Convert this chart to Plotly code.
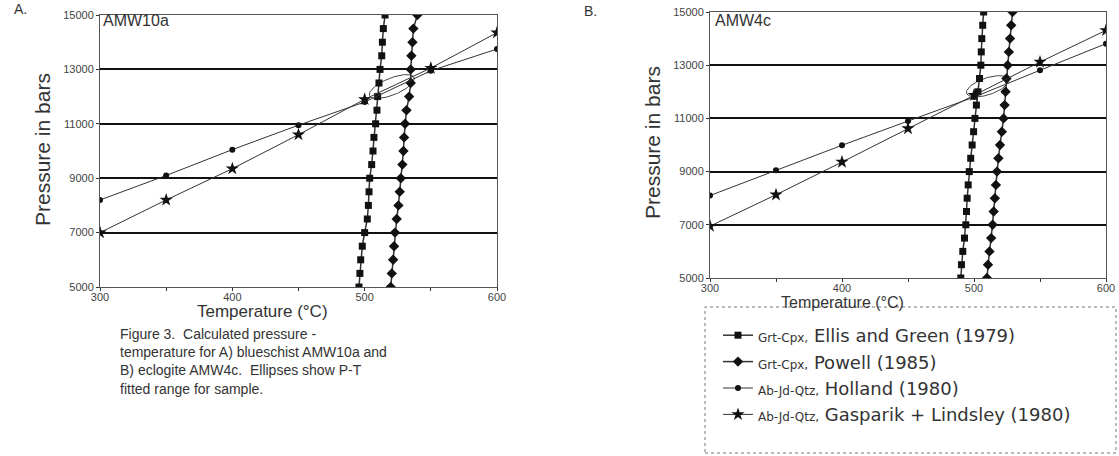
import numpy as np
import plotly.graph_objects as go

# ---------------- data ----------------
temps = [300, 350, 400, 450, 500, 550, 600]
pressures = [5000, 5500, 6000, 6500, 7000, 7500, 8000, 8500, 9000, 9500, 10000,
             10500, 11000, 11500, 12000, 12500, 13000, 13500, 14000, 14500, 15000]

# Panel A (AMW10a)
a_holland = [8200, 9100, 10050, 10950, 11800, 12950, 13750]
a_gasparik = [7000, 8200, 9350, 10600, 11900, 13050, 14350]
a_ellis = [495.7, 496.4, 497.0, 498.2, 500.0, 502.0, 502.8, 503.3, 503.8, 505.3, 506.3,
           507.0, 508.3, 509.3, 509.8, 510.8, 511.6, 512.9, 513.4, 514.1, 515.4]
a_powell = [519.7, 520.5, 521.5, 522.2, 522.9, 524.2, 525.5, 526.5, 527.3, 528.5, 529.3,
            529.8, 530.5, 531.6, 533.6, 534.8, 534.8, 535.3, 536.1, 536.8, 539.8]

# Panel B (AMW4c)
b_holland = [8100, 9050, 9990, 10900, 11800, 12810, 13810]
b_gasparik = [6950, 8130, 9360, 10620, 11870, 13120, 14310]
b_ellis = [490.0, 490.5, 491.5, 492.8, 493.8, 494.3, 494.8, 495.6, 496.4, 497.5, 498.6,
           499.7, 500.7, 501.8, 503.0, 504.2, 505.2, 505.5, 505.9, 506.6, 507.3]
b_powell = [509.8, 510.6, 511.7, 513.0, 514.1, 514.9, 515.8, 516.6, 517.4, 518.5, 519.7,
            521.1, 522.4, 523.2, 523.9, 524.6, 525.5, 526.4, 527.3, 528.2, 529.2]

# Ellipses: centre T, centre P, half-width (degC), half-height (bar), tilt (bar per degC)
ellipse_a = dict(tc=520.5, pc=12370, hw=17, hh=330, tilt=17)
ellipse_b = dict(tc=510.3, pc=12207, hw=16, hh=330, tilt=14)

names = [
    "<span style='font-size:12px'>Grt-Cpx,</span> Ellis and Green (1979)",
    "<span style='font-size:12px'>Grt-Cpx,</span> Powell (1985)",
    "<span style='font-size:12px'>Ab-Jd-Qtz,</span> Holland (1980)",
    "<span style='font-size:12px'>Ab-Jd-Qtz,</span> Gasparik + Lindsley (1980)",
]

x_tickvals = [300, 350, 400, 450, 500, 550, 600]
x_ticktext = ["300", "", "400", "", "500", "", "600"]
y_tickvals = [5000, 7000, 9000, 11000, 13000, 15000]
y_ticktext = ["5000", "7000", "9000", "11000", "13000", "15000"]

# ---------------- figure ----------------
W, H = 1119, 456
FONT = "Liberation Sans, Arial, sans-serif"
WIDE = "DejaVu Sans, Liberation Sans, sans-serif"
INK = "#111111"
LINE = "#333333"

def px_x(p):
    return p / W

def px_y(p):
    return 1 - p / H

fig = go.Figure()

def ellipse_pts(e):
    t = np.linspace(0, 2 * np.pi, 80)
    dx = e["hw"] * np.cos(t)
    x = e["tc"] + dx
    y = e["pc"] + e["hh"] * np.sin(t) + e["tilt"] * dx
    return x, y

panels = [
    ("x", "y", a_ellis, a_powell, a_holland, a_gasparik, ellipse_a, True),
    ("x2", "y2", b_ellis, b_powell, b_holland, b_gasparik, ellipse_b, False),
]

for xa, ya, ell, pow_, hol, gas, eli, show in panels:
    ex, ey = ellipse_pts(eli)
    fig.add_trace(go.Scatter(x=ex, y=ey, mode="lines", xaxis=xa, yaxis=ya,
                             line=dict(color="#444444", width=1), showlegend=False,
                             hoverinfo="skip"))
    fig.add_trace(go.Scatter(x=ell, y=pressures, mode="lines+markers", xaxis=xa, yaxis=ya,
                             name=names[0], legendgroup="g1", showlegend=show,
                             line=dict(color=LINE, width=1.5),
                             marker=dict(symbol="square", size=7, color=INK)))
    fig.add_trace(go.Scatter(x=pow_, y=pressures, mode="lines+markers", xaxis=xa, yaxis=ya,
                             name=names[1], legendgroup="g2", showlegend=show,
                             line=dict(color=LINE, width=1.5),
                             marker=dict(symbol="diamond", size=8, color=INK)))
    fig.add_trace(go.Scatter(x=temps, y=hol, mode="lines+markers", xaxis=xa, yaxis=ya,
                             name=names[2], legendgroup="g3", showlegend=show,
                             line=dict(color=LINE, width=1),
                             marker=dict(symbol="circle", size=6, color=INK)))
    fig.add_trace(go.Scatter(x=temps, y=gas, mode="lines+markers", xaxis=xa, yaxis=ya,
                             name=names[3], legendgroup="g4", showlegend=show,
                             line=dict(color=LINE, width=1),
                             marker=dict(symbol="star", size=10, color=INK)))

xaxis_common = dict(range=[300, 600], tickvals=x_tickvals, ticktext=x_ticktext,
                    ticks="outside", ticklen=3, tickcolor="#333", tickwidth=1,
                    ticklabelstandoff=-3,
                    showline=True, linecolor="#555", linewidth=1, mirror=True,
                    showgrid=False, zeroline=False, automargin=False,
                    tickfont=dict(family=FONT, size=11, color="#444"))
yaxis_common = dict(range=[5000, 15000], tickvals=y_tickvals, ticktext=y_ticktext,
                    ticks="outside", ticklen=3, tickcolor="#333", tickwidth=1,
                    showline=True, linecolor="#555", linewidth=1, mirror=True,
                    showgrid=True, gridcolor="#111", gridwidth=1.5, zeroline=False,
                    automargin=False,
                    tickfont=dict(family=FONT, size=11, color="#444"))

fig.update_layout(
    width=W, height=H, autosize=False,
    margin=dict(l=0, r=0, t=0, b=0, autoexpand=False),
    paper_bgcolor="white", plot_bgcolor="white",
    font=dict(family=FONT, color="#222"),
    xaxis=dict(domain=[px_x(100), px_x(497)], anchor="y", **xaxis_common),
    yaxis=dict(domain=[px_y(287), px_y(15)], anchor="x", **yaxis_common),
    xaxis2=dict(domain=[px_x(710), px_x(1106)], anchor="y2", **xaxis_common),
    yaxis2=dict(domain=[px_y(278), px_y(12)], anchor="x2", **yaxis_common),
    legend=dict(x=px_x(718), y=px_y(317), xanchor="left", yanchor="top",
                bgcolor="rgba(0,0,0,0)", borderwidth=0,
                font=dict(family=WIDE, size=18, color="#333"),
                tracegroupgap=0, itemwidth=30),
    showlegend=True,
)

fig.add_shape(type="rect", xref="paper", yref="paper",
              x0=px_x(705), x1=px_x(1116), y0=px_y(453), y1=px_y(307),
              line=dict(color="#777", width=1, dash="dot"))

ann = [
    dict(text="A.", x=px_x(12), y=px_y(9), xanchor="left", font_size=14),
    dict(text="B.", x=px_x(582), y=px_y(11), xanchor="left", font_size=14),
    dict(text="AMW10a", x=px_x(101), y=px_y(21), xanchor="left", font_size=16),
    dict(text="AMW4c", x=px_x(713), y=px_y(20), xanchor="left", font_size=16),
    dict(text="Pressure in bars", x=px_x(42), y=px_y(150), textangle=-90, font_size=21),
    dict(text="Pressure in bars", x=px_x(652), y=px_y(143), textangle=-90, font_size=21),
    dict(text="Temperature (°C)", x=px_x(262), y=px_y(311), font_size=17),
    dict(text="Temperature (°C)", x=px_x(843), y=px_y(302), font_size=16),
    dict(text="Figure 3.  Calculated pressure -<br>temperature for A) blueschist AMW10a and"
              "<br>B) eclogite AMW4c.  Ellipses show P-T<br>fitted range for sample.",
         x=px_x(118), y=px_y(324), xanchor="left", yanchor="top", align="left", font_size=14),
]
for a in ann:
    fs = a.pop("font_size")
    fig.add_annotation(xref="paper", yref="paper", showarrow=False,
                       font=dict(family=FONT, size=fs, color="#333"),
                       **({"xanchor": "center", "yanchor": "middle"} | a))

fig.write_html("out.html", config={"displayModeBar": False},
               post_script="document.body.style.margin='0px';")
